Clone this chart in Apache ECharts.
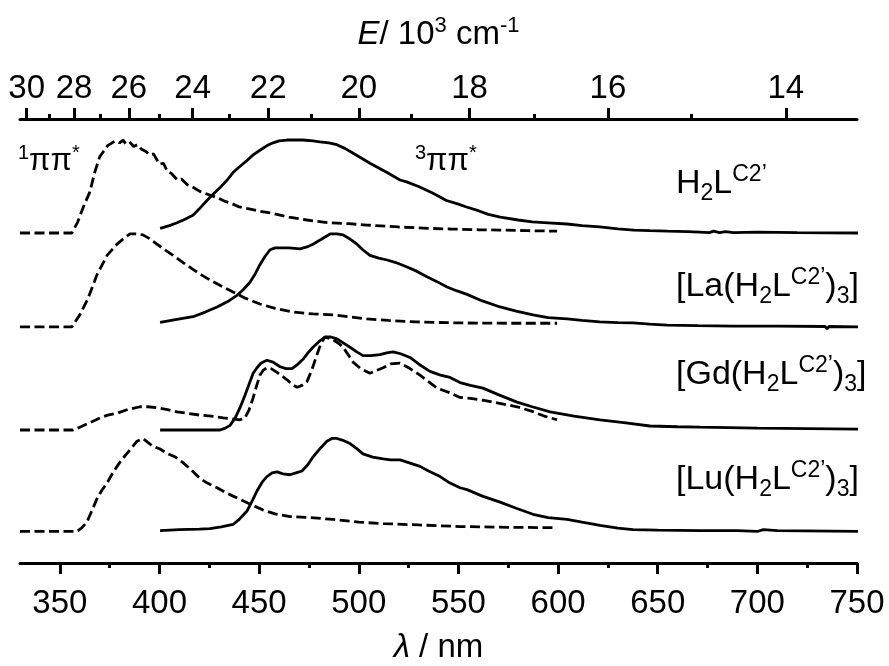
<!DOCTYPE html>
<html>
<head>
<meta charset="utf-8">
<script src="https://cdn.jsdelivr.net/npm/echarts@6.0.0/dist/echarts.min.js"></script>
<style>
  html, body { margin: 0; padding: 0; background: #fff; }
  #chart { width: 889px; height: 666px; }
</style>
</head>
<body>
<div id="chart"></div>
<script>
// Wavelength axis ticks (nm)
const wavelengthTicks = [350, 400, 450, 500, 550, 600, 650, 700, 750];
const wavelengthMinorTicks = [375, 425, 475, 525, 575, 625, 675, 725];
// Energy axis ticks (10^3 cm-1)
const energyTicks = [30, 28, 26, 24, 22, 20, 18, 16, 14];
const energyMinorTicks = [29, 27, 25, 23, 21, 19, 17, 15];

// Vertical offsets of the stacked spectra (normalised units)
const baselines = { H2L: 3.548, La: 2.538, Gd: 1.43, Lu: 0.339 };

// Normalised spectra: [wavelength / nm, intensity]
// 1ππ* (dashed) and 3ππ* (solid) bands
const h2lSinglet = [[330,0],[356,0],[359,0.12],[361.6,0.27],[365,0.44],[367.6,0.66],[370,0.82],[374,0.94],[377.7,0.99],[380,0.97],[381.7,1.0],[383,0.96],[385,0.98],[387,0.93],[389,0.95],[391,0.9],[393,0.88],[395,0.84],[397,0.85],[400,0.74],[402,0.75],[404,0.66],[406,0.64],[409,0.57],[411,0.58],[414,0.52],[417,0.49],[420,0.45],[425,0.41],[429,0.38],[433,0.34],[436,0.32],[440,0.28],[445,0.26],[449,0.24],[457,0.21],[465,0.17],[474,0.14],[485,0.11],[495,0.1],[504,0.086],[520,0.065],[535,0.05],[546,0.043],[560,0.035],[571,0.032],[585,0.025],[599.5,0.02]];
const h2lTriplet = [[400.3,0.05],[405,0.08],[408.8,0.11],[412,0.14],[416.8,0.19],[420,0.26],[423.8,0.35],[427,0.42],[430.4,0.49],[434,0.57],[436.9,0.65],[440,0.71],[443.9,0.78],[447,0.84],[450.4,0.89],[454,0.94],[457,0.97],[460,0.99],[464,1.0],[472,1.0],[477,0.99],[480.5,0.98],[485,0.97],[489,0.95],[493,0.91],[497,0.86],[501,0.81],[505.6,0.75],[510,0.7],[514.2,0.65],[520.7,0.57],[524,0.55],[530,0.5],[537,0.43],[544,0.35],[550,0.31],[554,0.28],[560,0.24],[565,0.2],[571,0.17],[580,0.14],[587,0.12],[595,0.11],[604.5,0.097],[612,0.08],[621,0.065],[630,0.045],[638,0.032],[646,0.025],[655,0.02],[665,0.015],[671,0.01],[676,0.005],[678,0.02],[681,0.005],[684,0.015],[688,0.005],[700,0.01],[720,0.005],[750.5,0.0]];

const laSinglet = [[330,0],[356,0],[360,0.13],[364,0.3],[368.6,0.56],[373.7,0.77],[378.7,0.89],[382,0.95],[385.2,1.0],[388,1.0],[391.7,0.99],[395,0.95],[398.7,0.89],[402,0.84],[406.8,0.77],[412,0.69],[416.8,0.62],[421,0.56],[425.3,0.505],[431,0.44],[436.9,0.376],[443,0.31],[450.4,0.247],[458,0.2],[467,0.16],[477,0.14],[487,0.13],[495,0.11],[504,0.086],[515,0.07],[529,0.054],[540,0.048],[551,0.043],[575,0.04],[599.5,0.04]];
const laTriplet = [[400.3,0.05],[408,0.08],[416.8,0.11],[423,0.16],[428.9,0.215],[434,0.27],[438.9,0.34],[442,0.4],[445.4,0.48],[448,0.57],[450.4,0.67],[453,0.76],[455.5,0.83],[458,0.85],[460.5,0.85],[465,0.85],[470.5,0.84],[474,0.86],[477,0.89],[481,0.94],[485.6,1.0],[489,1.0],[492.1,0.99],[496,0.94],[499.1,0.89],[502,0.83],[505.6,0.77],[510,0.74],[514.2,0.72],[519,0.69],[524.2,0.645],[529,0.6],[534.2,0.54],[539,0.49],[544.3,0.43],[549,0.39],[554.3,0.35],[562,0.28],[570.9,0.215],[579,0.17],[587.4,0.13],[595,0.1],[604.5,0.086],[612,0.07],[621,0.054],[630,0.047],[637.6,0.043],[646,0.03],[654.7,0.02],[670,0.015],[687.8,0.01],[710,0.008],[734,0.005],[735,-0.02],[736,0.005],[750.5,0.0]];

const gdSinglet = [[330,0],[356.6,0],[360,0.03],[363.6,0.065],[370.1,0.13],[374,0.16],[378.7,0.18],[384,0.22],[390.2,0.25],[394,0.25],[398.7,0.24],[404,0.22],[408.8,0.195],[414,0.18],[420.3,0.16],[426,0.15],[431.9,0.13],[436,0.12],[440.4,0.11],[442.9,0.13],[445,0.22],[446.9,0.34],[448.5,0.46],[450.4,0.59],[452,0.64],[453.9,0.67],[456,0.66],[459,0.62],[461.5,0.58],[464,0.54],[466.5,0.49],[469,0.46],[471.5,0.48],[474,0.52],[476.5,0.65],[479,0.81],[481,0.93],[483,1.0],[487.1,0.97],[490,0.93],[492.1,0.89],[495,0.8],[497.1,0.73],[501,0.66],[505.6,0.61],[509,0.64],[512.2,0.67],[516,0.71],[520.7,0.72],[525,0.67],[530.7,0.59],[535,0.52],[539.3,0.45],[545.8,0.4],[550.8,0.35],[556,0.34],[562.3,0.32],[570,0.29],[579.4,0.25],[587,0.2],[593,0.15],[599.5,0.11]];
const gdTriplet = [[400.3,0],[430.4,0],[433,0.02],[435.4,0.05],[438,0.13],[440.4,0.24],[443,0.38],[445.4,0.52],[447,0.61],[448.9,0.67],[451,0.72],[453.9,0.75],[457,0.73],[460.5,0.68],[463.5,0.66],[466.5,0.66],[469,0.7],[472,0.76],[474.5,0.83],[477,0.89],[480,0.95],[483,1.0],[486,1.0],[489.1,0.98],[492,0.94],[495.6,0.89],[499,0.84],[502.1,0.8],[506,0.8],[510.6,0.81],[514,0.83],[517.2,0.84],[521,0.82],[525.7,0.78],[530,0.71],[535.7,0.63],[541,0.59],[545.8,0.565],[550.8,0.51],[556,0.48],[562.3,0.45],[570,0.38],[579.4,0.3],[587,0.25],[596,0.195],[608,0.15],[621,0.11],[633,0.08],[646.1,0.043],[660,0.035],[671.2,0.03],[700,0.02],[750.5,0.01]];

const luSinglet = [[330,0],[358.6,0],[361,0.04],[363.6,0.1],[366,0.22],[368.6,0.35],[371,0.44],[373.7,0.52],[376,0.61],[378.7,0.7],[381,0.77],[383.7,0.84],[386,0.9],[388.7,0.97],[391.7,1.0],[394,0.96],[396.7,0.915],[400,0.89],[403.8,0.84],[408,0.8],[411.8,0.74],[416,0.66],[420.3,0.57],[424,0.52],[428.9,0.47],[433,0.42],[436.9,0.38],[441,0.34],[446.9,0.28],[452,0.23],[458,0.19],[465.5,0.16],[475,0.15],[487.1,0.13],[500,0.1],[512.2,0.085],[530,0.07],[550.8,0.053],[575,0.045],[599.5,0.04]];
const luTriplet = [[400.3,0.01],[410,0.02],[420,0.025],[425.3,0.03],[431,0.05],[436.9,0.075],[440,0.13],[443.9,0.22],[446.5,0.33],[448.9,0.435],[451.5,0.53],[453.9,0.59],[456.5,0.63],[459,0.64],[462,0.62],[465.5,0.61],[468.5,0.63],[471.5,0.65],[474.5,0.72],[477,0.8],[480.5,0.89],[484,0.97],[486.5,1.0],[489.1,1.0],[492,0.98],[495.6,0.945],[499,0.89],[502.1,0.835],[507,0.8],[512.2,0.78],[516,0.77],[520.7,0.77],[525,0.74],[530.7,0.7],[535,0.65],[540.8,0.59],[545,0.53],[550.8,0.47],[554.3,0.45],[562,0.38],[570.9,0.315],[579,0.25],[587.4,0.185],[595,0.15],[604.5,0.13],[612,0.1],[621,0.065],[630,0.035],[637.6,0.02],[650,0.015],[671.2,0.01],[690,0.01],[700,0.0],[703,0.02],[710,0.01],[750.5,0.0]];

const FONT = "'Liberation Sans', Arial, Helvetica, sans-serif";
const nmRange = [330, 750];
const yMax = 4.774;

// energy (10^3 cm-1) -> wavelength (nm)
const toNm = e => 1e4 / e;

function spectrum(name, data, offset, dashed) {
  return {
    name: name,
    type: 'line',
    xAxisIndex: 0,
    yAxisIndex: 0,
    showSymbol: false,
    symbol: 'none',
    smooth: false,
    silent: true,
    data: data.map(p => [p[0], offset + p[1]]),
    lineStyle: {
      color: '#000',
      width: 2.8,
      type: dashed ? [10, 4.5] : 'solid',
      cap: 'butt'
    },
    z: dashed ? 2 : 3
  };
}

const chart = echarts.init(document.getElementById('chart'), null, { renderer: 'canvas' });

const tickLabelStyle = { color: '#000', fontFamily: FONT, fontSize: 33, lineHeight: 34 };

const option = {
  animation: false,
  backgroundColor: '#fff',
  grid: { left: 20, right: 32, top: 119, bottom: 103, outerBoundsMode: 'none', containLabel: false },
  xAxis: [
    {
      // wavelength, major ticks + labels
      type: 'value', position: 'bottom', min: nmRange[0], max: nmRange[1],
      axisLine: { show: true, lineStyle: { color: '#000', width: 3 } },
      axisTick: { show: true, length: 11, lineStyle: { color: '#000', width: 3 }, customValues: wavelengthTicks },
      axisLabel: Object.assign({ margin: 24, customValues: wavelengthTicks }, tickLabelStyle),
      splitLine: { show: false },
      name: '{i|λ}{n| / nm}',
      nameLocation: 'middle',
      nameGap: 65,
      nameTextStyle: {
        rich: {
          i: { fontFamily: FONT, fontSize: 33, fontStyle: 'italic', lineHeight: 40, color: '#000' },
          n: { fontFamily: FONT, fontSize: 33, lineHeight: 40, color: '#000' }
        }
      }
    },
    {
      // wavelength, minor ticks
      type: 'value', position: 'bottom', min: nmRange[0], max: nmRange[1],
      axisLine: { show: false },
      axisTick: { show: true, length: 5, lineStyle: { color: '#000', width: 3 }, customValues: wavelengthMinorTicks },
      axisLabel: { show: false },
      splitLine: { show: false }
    },
    {
      // energy, major ticks + labels
      type: 'value', position: 'top', min: nmRange[0], max: nmRange[1],
      axisLine: { show: true, lineStyle: { color: '#000', width: 3 } },
      axisTick: { show: true, length: 11, lineStyle: { color: '#000', width: 3 }, customValues: energyTicks.map(toNm) },
      axisLabel: Object.assign({
        margin: 13,
        customValues: energyTicks.map(toNm),
        formatter: v => String(Math.round(1e4 / v))
      }, tickLabelStyle),
      splitLine: { show: false },
      name: '{i|E}{n|/ 10}{s|3}{n| cm}{s|-1}',
      nameLocation: 'middle',
      nameGap: 64,
      nameTextStyle: {
        rich: {
          i: { fontFamily: FONT, fontSize: 33, fontStyle: 'italic', lineHeight: 40, color: '#000' },
          n: { fontFamily: FONT, fontSize: 33, lineHeight: 40, color: '#000' },
          s: { fontFamily: FONT, fontSize: 22, lineHeight: 24, verticalAlign: 'top', color: '#000' }
        }
      }
    },
    {
      // energy, minor ticks
      type: 'value', position: 'top', min: nmRange[0], max: nmRange[1],
      axisLine: { show: false },
      axisTick: { show: true, length: 5, lineStyle: { color: '#000', width: 3 }, customValues: energyMinorTicks.map(toNm) },
      axisLabel: { show: false },
      splitLine: { show: false }
    }
  ],
  yAxis: {
    type: 'value', min: 0, max: yMax, show: false,
    splitLine: { show: false }
  },
  series: [
    spectrum('H2L 1ππ*', h2lSinglet, baselines.H2L, true),
    spectrum('H2L 3ππ*', h2lTriplet, baselines.H2L, false),
    spectrum('La 1ππ*', laSinglet, baselines.La, true),
    spectrum('La 3ππ*', laTriplet, baselines.La, false),
    spectrum('Gd 1ππ*', gdSinglet, baselines.Gd, true),
    spectrum('Gd 3ππ*', gdTriplet, baselines.Gd, false),
    spectrum('Lu 1ππ*', luSinglet, baselines.Lu, true),
    spectrum('Lu 3ππ*', luTriplet, baselines.Lu, false)
  ]
};

// Rich-text styles for compound and state labels
const labelRich = {
  a: { fontFamily: FONT, fontSize: 34, lineHeight: 42, fill: '#000' },
  sub: { fontFamily: FONT, fontSize: 23, lineHeight: 24, verticalAlign: 'bottom', fill: '#000' },
  sup: { fontFamily: FONT, fontSize: 23, lineHeight: 24, verticalAlign: 'top', fill: '#000' }
};
const stateRich = {
  a: { fontFamily: FONT, fontSize: 31, lineHeight: 36, fill: '#000' },
  sup: { fontFamily: FONT, fontSize: 20, lineHeight: 20, verticalAlign: 'top', fill: '#000' }
};

function textItem(text, x, y, rich) {
  return {
    type: 'text', x: x, y: y, silent: true,
    style: { text: text, rich: rich, align: 'left', verticalAlign: 'middle', textAlign: 'left', textVerticalAlign: 'middle', fill: '#000' }
  };
}

const ligand = '{a|H}{sub|2}{a|L}{sup|C2’}';
option.graphic = [
  textItem('{sup|1}{a|ππ}{sup|*}', 18, 161, stateRich),
  textItem('{sup|3}{a|ππ}{sup|*}', 415, 161, stateRich),
  textItem(ligand, 676, 184, labelRich),
  textItem('{a|[La(}' + ligand + '{a|)}{sub|3}{a|]}', 676, 287, labelRich),
  textItem('{a|[Gd(}' + ligand + '{a|)}{sub|3}{a|]}', 676, 375, labelRich),
  textItem('{a|[Lu(}' + ligand + '{a|)}{sub|3}{a|]}', 676, 480, labelRich)
];

chart.setOption(option);
</script>
</body>
</html>
